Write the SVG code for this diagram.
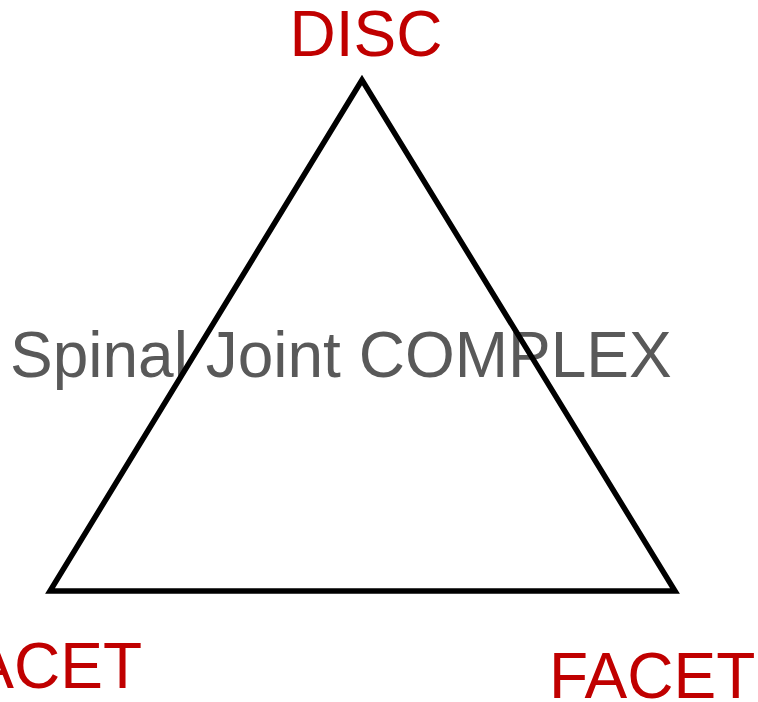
<svg xmlns="http://www.w3.org/2000/svg" width="758" height="702" viewBox="0 0 758 702">
<style>
.lbl{font-family:"Liberation Sans",Arial,sans-serif;font-size:64px;fill:#c00000}
.title{font-family:"Liberation Sans",Arial,sans-serif;font-size:64px;fill:#595959}
.edge{fill:none;stroke:#000;stroke-width:5.5;stroke-linejoin:miter}
</style>
<rect width="758" height="702" fill="#fff"/>
<text class="title" x="10" y="377">Spinal Joint COMPLEX</text>
<g id="connectors">
<polygon class="edge" points="362,80 50,591 675,591"/>
</g>
<g id="disc"><text class="lbl" x="366" y="56" text-anchor="middle">DISC</text></g>
<g id="facet-left"><text class="lbl" x="142" y="688" text-anchor="end">FACET</text></g>
<g id="facet-right"><text class="lbl" x="549" y="698">FACET</text></g>
</svg>
